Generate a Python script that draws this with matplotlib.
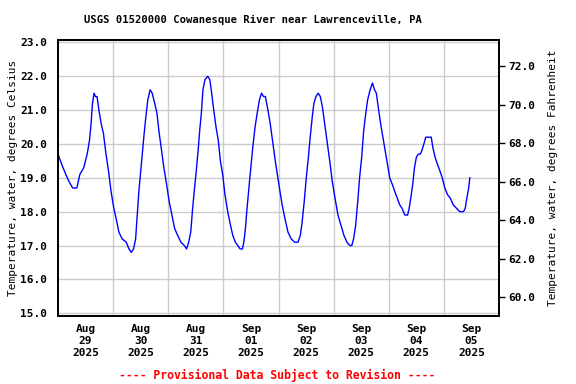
import numpy as np
import pandas as pd
import matplotlib
matplotlib.use("Agg")
import matplotlib.pyplot as plt
import matplotlib.dates as mdates

# hours after 2025-08-29 00:00 and water temperature (deg C)
hours = [0.0, 1.6, 3.4, 4.7, 6.4, 8.2, 9.5, 11.2, 12.7, 13.7, 14.4, 15.0, 15.7, 16.3,
         17.0, 17.8, 18.8, 19.8, 20.9, 22.0, 23.1, 24.3, 25.3, 26.5, 27.9, 29.7, 30.9,
         31.9, 32.9, 33.8, 34.5, 35.2, 36.0, 36.8, 37.5, 38.4, 39.1, 40.1, 41.0, 42.1,
         43.1, 43.9, 44.9, 46.1, 47.3, 48.4, 49.6, 50.8, 52.1, 53.5, 55.0, 56.0, 56.9,
         57.8, 58.5, 59.3, 60.2, 61.0, 61.7, 62.4, 63.1, 64.0, 65.2, 66.1, 66.9, 67.8,
         68.8, 69.8, 70.7, 71.7, 72.7, 73.9, 75.1, 76.1, 77.2, 78.3, 79.3, 80.3, 80.9,
         81.6, 82.3, 83.1, 83.8, 84.8, 85.8, 86.7, 87.7, 88.6, 89.5, 90.3, 91.4, 92.4,
         93.6, 94.6, 96.4, 97.6, 98.8, 100.1, 101.5, 103.0, 104.5, 105.5, 106.3, 107.2,
         108.1, 109.0, 109.8, 110.7, 111.4, 112.3, 113.3, 114.2, 115.1, 116.1, 117.1,
         118.3, 119.4, 120.6, 121.9, 123.2, 124.5, 125.8, 127.0, 127.9, 128.7, 129.6,
         130.5, 131.3, 132.2, 133.1, 134.0, 134.8, 135.9, 136.9, 137.8, 138.6, 139.6,
         140.7, 141.7, 142.7, 143.7, 144.4, 145.6, 146.6, 147.7, 148.8, 149.8, 151.0,
         152.2, 152.9, 153.8, 154.6, 155.2, 156.0, 156.8, 157.7, 158.4, 159.3, 160.1,
         161.5, 162.5, 163.2, 164.2, 165.2, 166.3, 167.3, 168.4, 169.6, 170.8, 172.1,
         173.5, 175.0, 176.5, 177.3, 178.0, 178.8, 179.3]
temp_c = [19.7, 19.4, 19.1, 18.9, 18.7, 18.7, 19.1, 19.3, 19.7, 20.1, 20.6, 21.2, 21.5, 21.4,
          21.4, 21.0, 20.6, 20.3, 19.7, 19.2, 18.6, 18.1, 17.8, 17.4, 17.2, 17.1, 16.9,
          16.8, 16.9, 17.2, 17.9, 18.6, 19.2, 19.8, 20.3, 20.9, 21.3, 21.6, 21.5, 21.2,
          20.9, 20.4, 19.9, 19.3, 18.8, 18.3, 17.9, 17.5, 17.3, 17.1, 17.0, 16.9, 17.1,
          17.4, 18.0, 18.6, 19.2, 19.8, 20.4, 20.9, 21.6, 21.9, 22.0, 21.9, 21.5, 21.0,
          20.5, 20.1, 19.5, 19.1, 18.5, 18.0, 17.6, 17.3, 17.1, 17.0, 16.9, 16.9, 17.1,
          17.5, 18.1, 18.7, 19.2, 19.9, 20.5, 20.9, 21.3, 21.5, 21.4, 21.4, 21.0, 20.6,
          20.0, 19.5, 18.7, 18.2, 17.8, 17.4, 17.2, 17.1, 17.1, 17.3, 17.7, 18.3,
          19.0, 19.6, 20.2, 20.8, 21.2, 21.4, 21.5, 21.4, 21.1, 20.6, 20.1,
          19.5, 18.9, 18.4, 17.9, 17.6, 17.3, 17.1, 17.0, 17.0, 17.2, 17.6,
          18.3, 19.0, 19.6, 20.4, 20.9, 21.3, 21.6, 21.8, 21.6, 21.5, 21.0,
          20.5, 20.1, 19.7, 19.3, 19.0, 18.8, 18.6, 18.4, 18.2, 18.1, 17.9,
          17.9, 18.1, 18.5, 18.9, 19.3, 19.6, 19.7, 19.7, 19.8, 20.0, 20.2,
          20.2, 20.2, 19.9, 19.6, 19.4, 19.2, 19.0, 18.7, 18.5, 18.4, 18.2,
          18.1, 18.0, 18.0, 18.1, 18.4, 18.7, 19.0]

c_ticks = [15, 16, 17, 18, 19, 20, 21, 22, 23]
f_ticks = [60, 62, 64, 66, 68, 70, 72]
day_labels = ["Aug\n29\n2025", "Aug\n30\n2025", "Aug\n31\n2025", "Sep\n01\n2025",
              "Sep\n02\n2025", "Sep\n03\n2025", "Sep\n04\n2025", "Sep\n05\n2025"]

start = pd.Timestamp("2025-08-29 00:00")
times = start + pd.to_timedelta(hours, unit="h")

plt.rcParams['font.family'] = ['DejaVu Sans Mono']
plt.rcParams['font.weight'] = 'bold'
plt.rcParams['font.size'] = 8

fig = plt.figure(figsize=(5.76, 3.84), dpi=100)
ax = fig.add_axes([58 / 576, 1 - 316 / 384, 441 / 576, 276 / 384])

ax.plot(times, temp_c, color='#0000ff', lw=1.0)

ax.set_xlim(start, start + pd.Timedelta(days=8))
ax.set_ylim(14.92, 23.07)
ax.set_yticks(c_ticks)
ax.set_yticklabels([f"{v:.1f}" for v in c_ticks])

midnights = [start + pd.Timedelta(days=d) for d in range(1, 8)]
noons = [start + pd.Timedelta(days=d, hours=12) for d in range(8)]
ax.set_xticks(noons)
ax.set_xticklabels(day_labels, linespacing=1.25)
ax.set_xticks(midnights, minor=True)

ax.grid(True, which='minor', axis='x', color='#cccccc', lw=1)
ax.grid(True, which='major', axis='y', color='#cccccc', lw=1)
ax.tick_params(axis='both', which='both', length=0)
ax.tick_params(axis='x', pad=6)
ax.tick_params(axis='y', pad=8)
for s in ax.spines.values():
    s.set_linewidth(1.3)
ax.set_ylabel("Temperature, water, degrees Celsius", labelpad=1)

ax2 = ax.twinx()
ax2.set_ylim(59.03, 73.36)
ax2.set_yticks(f_ticks)
ax2.set_yticklabels([f"{v:.1f}" for v in f_ticks])
ax2.tick_params(axis='y', direction='out', length=4, width=1, pad=3)
for s in ax2.spines.values():
    s.set_linewidth(1.3)
ax2.set_ylabel("Temperature, water, degrees Fahrenheit", labelpad=9)

fig.text(252.5 / 576, 1 - 20 / 384,
         "USGS 01520000 Cowanesque River near Lawrenceville, PA",
         ha='center', va='center', fontsize=7.6)
fig.text(277 / 576, 1 - 375 / 384,
         "---- Provisional Data Subject to Revision ----",
         ha='center', va='center', fontsize=8.3, color='red')

fig.savefig("out.png", dpi=100)
